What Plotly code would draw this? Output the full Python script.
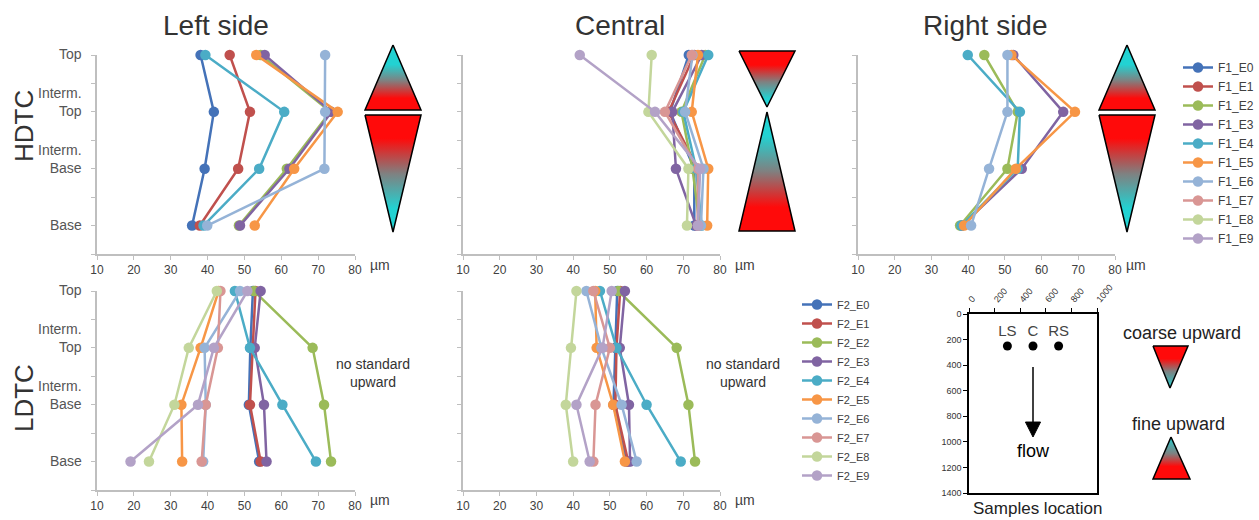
import plotly.graph_objects as go

W, H = 1259, 520

# ---------------- data ----------------
LEVELS = ["Top", "Interm.<br>Top", "Interm.<br>Base", "Base"]
LEVEL_POS = [4, 3, 2, 1]
X_TICKS = [10, 20, 30, 40, 50, 60, 70, 80]

F1_NAMES = ["F1_E0", "F1_E1", "F1_E2", "F1_E3", "F1_E4",
            "F1_E5", "F1_E6", "F1_E7", "F1_E8", "F1_E9"]
F2_NAMES = ["F2_E0", "F2_E1", "F2_E2", "F2_E3", "F2_E4",
            "F2_E5", "F2_E6", "F2_E7", "F2_E8", "F2_E9"]
SERIES_COLORS = ["#4472B8", "#C0504D", "#9BBB59", "#8064A2", "#4BACC6",
                 "#F79646", "#95B3D7", "#D99694", "#C3D69B", "#B3A2C7"]

# values per level: [Top, Interm. Top, Interm. Base, Base]  (um)
HDTC_LEFT = {
    "F1_E0": [38.1, 41.7, 39.2, 35.8],
    "F1_E1": [46.0, 51.5, 48.3, 37.9],
    "F1_E2": [54.4, 73.3, 61.5, 48.5],
    "F1_E3": [55.5, 73.6, 62.2, 48.8],
    "F1_E4": [39.4, 60.8, 54.0, 38.9],
    "F1_E5": [53.2, 75.3, 63.5, 52.8],
    "F1_E6": [71.9, 71.9, 71.7, 39.9],
}
HDTC_CENTRAL = {
    "F1_E0": [71.5, 66.4, 73.0, 73.0],
    "F1_E1": [73.0, 66.0, 74.0, 74.0],
    "F1_E2": [76.0, 69.5, 72.5, 74.5],
    "F1_E3": [75.0, 67.0, 68.0, 73.5],
    "F1_E4": [76.8, 70.0, 73.5, 75.0],
    "F1_E5": [74.0, 72.3, 76.8, 76.5],
    "F1_E6": [72.5, 70.5, 75.5, 74.8],
    "F1_E7": [72.3, 65.0, 74.0, 74.0],
    "F1_E8": [61.4, 60.5, 71.4, 71.0],
    "F1_E9": [41.8, 62.3, 74.6, 74.0],
}
HDTC_RIGHT = {
    "F1_E2": [44.4, 53.5, 50.7, 37.8],
    "F1_E3": [52.3, 65.9, 54.6, 38.3],
    "F1_E4": [39.9, 54.1, 53.5, 38.2],
    "F1_E5": [51.8, 69.1, 53.0, 38.9],
    "F1_E6": [50.7, 50.7, 45.7, 40.8],
}
LDTC_LEFT = {
    "F2_E0": [52.3, 51.6, 51.2, 54.0],
    "F2_E1": [53.0, 52.3, 51.5, 54.4],
    "F2_E2": [52.6, 68.5, 71.6, 73.5],
    "F2_E3": [54.4, 52.8, 55.3, 56.0],
    "F2_E4": [47.4, 51.5, 60.3, 69.4],
    "F2_E5": [43.0, 38.1, 32.9, 33.1],
    "F2_E6": [48.8, 39.2, 39.5, 38.8],
    "F2_E7": [43.5, 42.8, 39.5, 38.4],
    "F2_E8": [42.5, 34.9, 31.0, 24.1],
    "F2_E9": [50.8, 41.7, 37.4, 19.1],
}
LDTC_CENTRAL = {
    "F2_E0": [52.0, 51.5, 51.0, 54.5],
    "F2_E1": [52.8, 51.8, 51.5, 55.0],
    "F2_E2": [52.3, 68.2, 71.4, 73.2],
    "F2_E3": [54.1, 52.7, 55.2, 55.5],
    "F2_E4": [47.3, 51.8, 60.0, 69.3],
    "F2_E5": [46.0, 46.4, 50.9, 54.1],
    "F2_E6": [43.6, 47.7, 53.2, 57.3],
    "F2_E7": [45.5, 50.0, 46.1, 45.5],
    "F2_E8": [40.9, 39.4, 38.0, 40.0],
    "F2_E9": [50.5, 48.0, 40.9, 44.5],
}

# sample location inset
SITE_LABELS = ["LS", "C", "RS"]
SITE_X = [300, 500, 700]
SITE_Y = [250, 250, 250]
INSET_X_TICKS = [0, 200, 400, 600, 800, 1000]
INSET_Y_TICKS = [0, 200, 400, 600, 800, 1000, 1200, 1400]


# ---------------- helpers (picture pixels -> paper fractions) ----------------
def px(x):
    return x / W


def py(y):
    return 1 - y / H


AX = "#BFBFBF"
TXT = "#404040"
NARROW = "Liberation Sans Narrow, Arial Narrow, Liberation Sans, Arial, sans-serif"
SANS = "Liberation Sans, Arial, sans-serif"
CY = "#22D2D2"
RD = "#FF0A0A"
GR = "#808080"

fig = go.Figure()

PANELS = [
    (HDTC_LEFT, F1_NAMES, (97, 355), (55, 254), None),
    (HDTC_CENTRAL, F1_NAMES, (463, 720), (55, 254), "legend"),
    (HDTC_RIGHT, F1_NAMES, (858, 1115), (55, 254), None),
    (LDTC_LEFT, F2_NAMES, (97, 355), (291, 490), None),
    (LDTC_CENTRAL, F2_NAMES, (463, 720), (291, 490), "legend2"),
]

layout_axes = {}
for i, (data, names, (x0, x1), (y0, y1), leg) in enumerate(PANELS, start=1):
    xa = "x" if i == 1 else f"x{i}"
    ya = "y" if i == 1 else f"y{i}"
    for k, name in enumerate(names):
        if name not in data:
            continue
        fig.add_trace(go.Scatter(
            x=data[name], y=LEVEL_POS, name=name, mode="lines+markers",
            line=dict(color=SERIES_COLORS[k], width=2.5),
            marker=dict(color=SERIES_COLORS[k], size=10.5),
            xaxis=xa, yaxis=ya, cliponaxis=False,
            showlegend=leg is not None, legend=leg if leg else "legend",
        ))
    layout_axes["xaxis" if i == 1 else f"xaxis{i}"] = dict(
        domain=[px(x0), px(x1)], range=[10, 80], anchor=ya,
        showline=True, linecolor=AX, linewidth=1.5, ticks="outside",
        ticklen=4, tickcolor=AX, tickvals=X_TICKS, showgrid=False,
        zeroline=False, tickfont=dict(family=SANS, size=12, color=TXT),
    )
    layout_axes["yaxis" if i == 1 else f"yaxis{i}"] = dict(
        domain=[py(y1), py(y0)], range=[0.5, 4], anchor=xa,
        showline=True, linecolor=AX, linewidth=1.5, ticks="outside",
        ticklen=4, tickcolor=AX,
        tickvals=[0.5, 1, 1.5, 2, 2.5, 3, 3.5, 4],
        showticklabels=False, showgrid=False, zeroline=False,
    )

# inset: samples location
fig.add_trace(go.Scatter(
    x=SITE_X, y=SITE_Y, text=SITE_LABELS, mode="markers+text",
    textposition="top center", marker=dict(color="black", size=9),
    textfont=dict(family=SANS, size=15, color="#444444"),
    xaxis="x6", yaxis="y6", showlegend=False, cliponaxis=False,
    hoverinfo="skip",
))
layout_axes["xaxis6"] = dict(
    domain=[px(969), px(1097)], range=[0, 1000], anchor="y6", side="top",
    showline=True, mirror=True, linecolor="black", linewidth=1.5,
    ticks="outside", ticklen=4, tickcolor="black", tickvals=INSET_X_TICKS,
    tickangle=-50, tickfont=dict(family=SANS, size=9, color="#333333"),
    showgrid=False, zeroline=False,
)
layout_axes["yaxis6"] = dict(
    domain=[py(493), py(314)], range=[1400, 0], anchor="x6",
    showline=True, mirror=True, linecolor="black", linewidth=1.5,
    ticks="outside", ticklen=4, tickcolor="black", tickvals=INSET_Y_TICKS,
    tickfont=dict(family=SANS, size=9, color="#333333"),
    showgrid=False, zeroline=False,
)

# overlay axis in picture-pixel units for decorative gradient triangles
layout_axes["xaxis7"] = dict(domain=[0, 1], range=[0, W], anchor="y7",
                             visible=False, fixedrange=True)
layout_axes["yaxis7"] = dict(domain=[0, 1], range=[H, 0], anchor="x7",
                             visible=False, fixedrange=True)

UP_CR = [[0, CY], [0.3, CY], [0.55, GR], [0.82, RD], [1, RD]]   # cyan top -> red bottom
DN_RC = [[0, RD], [0.2, RD], [0.5, GR], [0.8, CY], [1, CY]]     # red top -> cyan bottom


def tri(xs, ys, cs):
    fig.add_trace(go.Scatter(
        x=xs, y=ys, mode="lines", fill="toself",
        fillgradient=dict(type="vertical", colorscale=cs,
                          start=min(ys), stop=max(ys)),
        line=dict(color="black", width=1.5), xaxis="x7", yaxis="y7",
        showlegend=False, hoverinfo="skip",
    ))


for cx in (393, 1127):
    tri([cx, cx + 28, cx - 28, cx], [45, 110, 110, 45], UP_CR)
    tri([cx - 28, cx + 28, cx, cx - 28], [115, 115, 232, 115], DN_RC)
# central hourglass
tri([739, 795, 767, 739], [51, 51, 107, 51],
    [[0, RD], [0.25, RD], [0.55, GR], [0.85, CY], [1, CY]])
tri([767, 795, 739, 767], [112, 231, 231, 112],
    [[0, CY], [0.2, CY], [0.5, GR], [0.8, RD], [1, RD]])
# key triangles
tri([1153, 1188, 1170, 1153], [346, 346, 388, 346],
    [[0, RD], [0.3, RD], [0.6, GR], [1, CY]])
tri([1171, 1190, 1153, 1171], [437, 479, 479, 437],
    [[0, CY], [0.4, GR], [0.7, RD], [1, RD]])

# ---------------- annotations ----------------
ann = []


def text(x, y, s, size, color="#333333", family=SANS, angle=0):
    ann.append(dict(x=px(x), y=py(y), xref="paper", yref="paper", text=s,
                    xanchor="center", yanchor="middle",
                    showarrow=False, textangle=angle,
                    font=dict(family=family, size=size, color=color)))


text(216, 25, "Left side", 28, "#333333", NARROW)
text(620, 25, "Central", 28, "#333333", NARROW)
text(985, 25, "Right side", 28, "#333333", NARROW)
text(24, 126, "HDTC", 26, "#333333", NARROW, angle=-90)
text(24, 398, "LDTC", 26, "#333333", NARROW, angle=-90)
text(373, 373, "no standard<br>upward", 14, "#333333", SANS)
text(743, 373, "no standard<br>upward", 14, "#333333", SANS)
for (x, y) in [(380, 265), (745, 265), (1136, 265), (380, 500), (745, 500)]:
    text(x, y, "µm", 14, TXT, SANS)
text(1182, 333, "coarse upward", 18, "#222222", SANS)
text(1178, 424, "fine upward", 18, "#222222", SANS)
text(1037, 508, "Samples location", 17, "#222222", SANS)

# y level labels for the left column
for yref in ("y", "y4"):
    for lab, pos in zip(LEVELS, LEVEL_POS):
        ann.append(dict(x=px(84), xref="paper", xanchor="right", y=pos,
                        yref=yref, yanchor="bottom", yshift=-9, text=lab,
                        showarrow=False, align="right",
                        font=dict(family=NARROW, size=14, color="#555555")))

# inset arrow + label
ann.append(dict(x=500, y=1075, xref="x6", yref="y6", text="flow",
                xanchor="center", yanchor="middle", showarrow=False,
                font=dict(family=SANS, size=18, color="black")))
shapes = [
    dict(type="line", xref="x6", yref="y6", x0=500, x1=500, y0=415, y1=860,
         line=dict(color="black", width=1.5)),
    dict(type="path", xref="x6", yref="y6",
         path="M 441,845 L 559,845 L 500,962 Z", fillcolor="black",
         line=dict(color="black", width=1)),
]

fig.update_layout(
    width=W, height=H, autosize=False,
    margin=dict(l=0, r=0, t=0, b=0, autoexpand=False),
    paper_bgcolor="white", plot_bgcolor="rgba(0,0,0,0)",
    annotations=ann, shapes=shapes,
    legend=dict(x=1.0, y=py(53), xanchor="right", yanchor="top",
                bgcolor="rgba(0,0,0,0)", itemwidth=30, tracegroupgap=0,
                font=dict(family=NARROW, size=12, color=TXT)),
    legend2=dict(x=px(797), y=py(290), xanchor="left", yanchor="top",
                 bgcolor="rgba(0,0,0,0)", itemwidth=30, tracegroupgap=0,
                 font=dict(family=NARROW, size=11, color=TXT)),
    **layout_axes,
)

# remove the default page margin so the figure fills the window exactly
fig.write_html(
    "out.html",
    config={"displayModeBar": False},
    post_script="document.body.style.margin='0';"
                "document.body.style.overflow='hidden';",
)
